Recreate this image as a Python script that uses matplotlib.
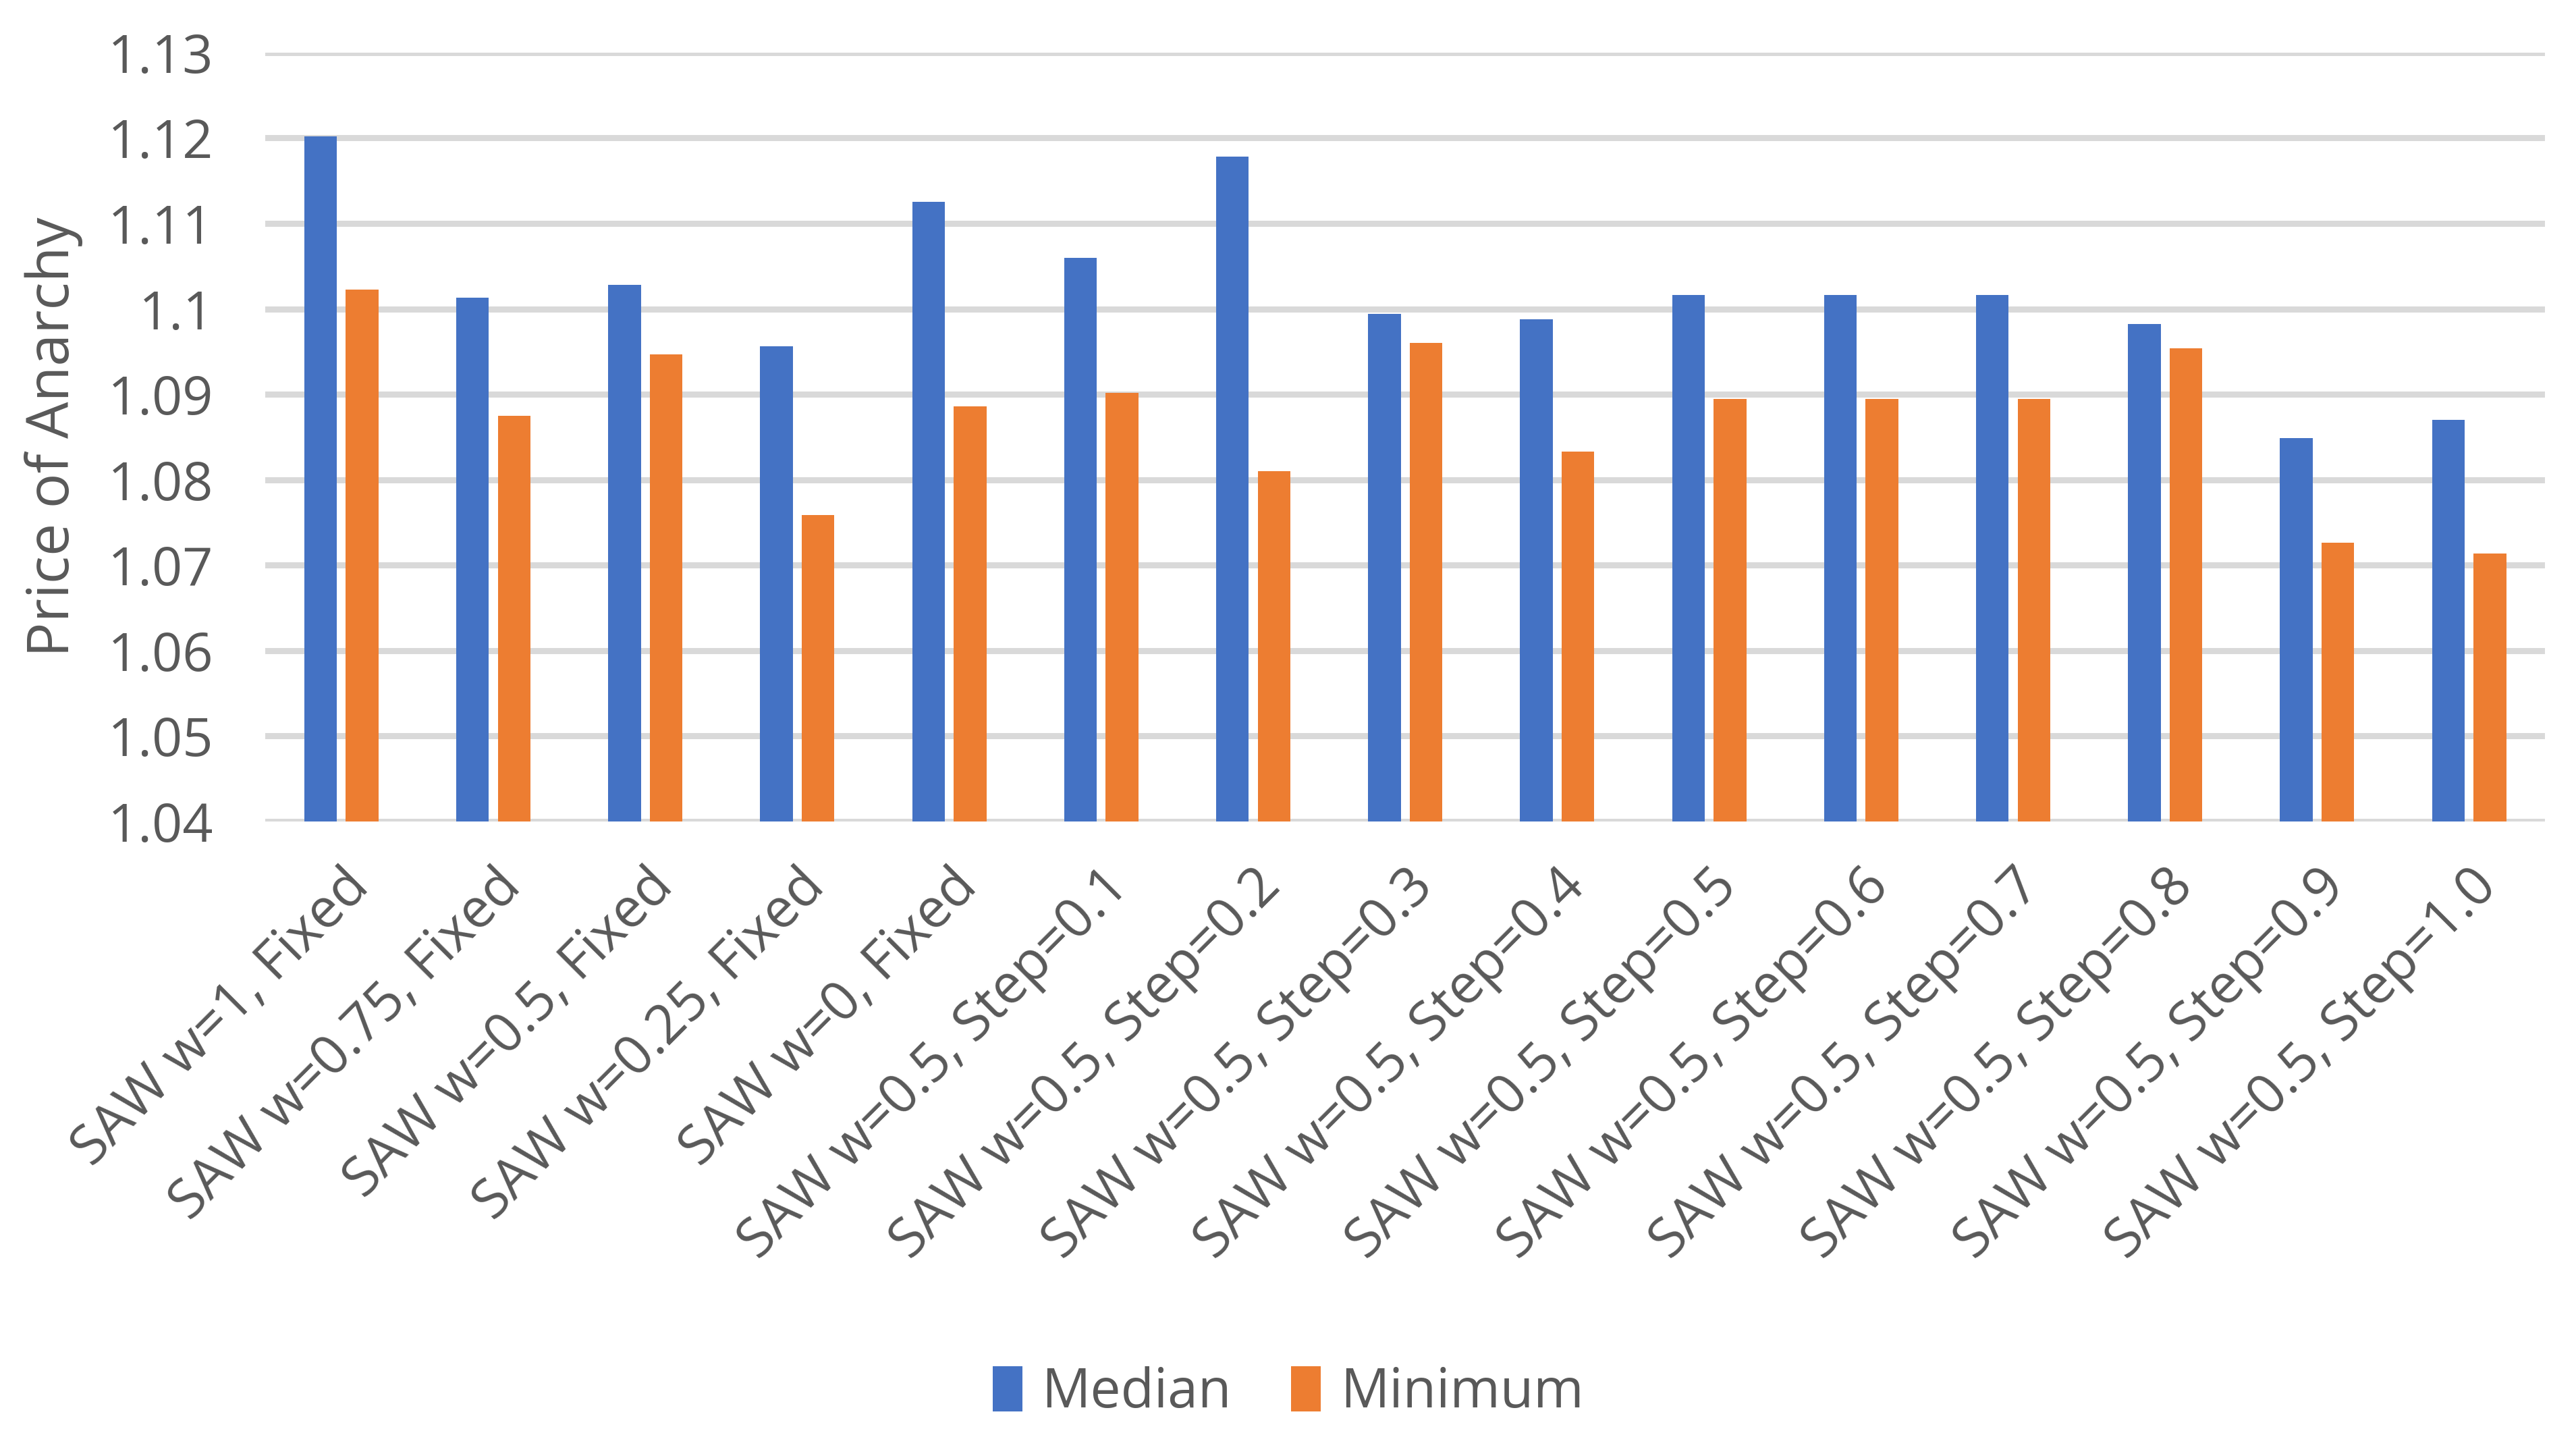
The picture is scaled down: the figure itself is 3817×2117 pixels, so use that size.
import numpy as np
import matplotlib
matplotlib.use("Agg")
import matplotlib.pyplot as plt

plt.rcParams['font.family'] = ['Open Sans', 'DejaVu Sans']

categories = ["SAW w=1, Fixed", "SAW w=0.75, Fixed", "SAW w=0.5, Fixed",
              "SAW w=0.25, Fixed", "SAW w=0, Fixed",
              "SAW w=0.5, Step=0.1", "SAW w=0.5, Step=0.2", "SAW w=0.5, Step=0.3",
              "SAW w=0.5, Step=0.4", "SAW w=0.5, Step=0.5", "SAW w=0.5, Step=0.6",
              "SAW w=0.5, Step=0.7", "SAW w=0.5, Step=0.8", "SAW w=0.5, Step=0.9",
              "SAW w=0.5, Step=1.0"]
median = [1.1202, 1.1013, 1.1028, 1.0956, 1.1125, 1.1060, 1.1178, 1.0994,
          1.0988, 1.1016, 1.1016, 1.1016, 1.0982, 1.0849, 1.0870]
minimum = [1.1023, 1.0875, 1.0947, 1.0759, 1.0886, 1.0902, 1.0810, 1.0960,
           1.0833, 1.0895, 1.0895, 1.0895, 1.0954, 1.0726, 1.0714]
yticks = [1.04, 1.05, 1.06, 1.07, 1.08, 1.09, 1.10, 1.11, 1.12, 1.13]
ytick_labels = ["1.04", "1.05", "1.06", "1.07", "1.08", "1.09", "1.1", "1.11", "1.12", "1.13"]

grey = '#595959'
fig = plt.figure(figsize=(38.17, 21.17), dpi=100)
ax = fig.add_axes([0.103, 0.4251, 0.885, 0.5381])

x = np.arange(len(categories))
w = 0.215
ax.bar(x - 0.137, median, w, color='#4472C4', label='Median', zorder=3)
ax.bar(x + 0.137, minimum, w, color='#ED7D31', label='Minimum', zorder=3)

ax.set_xlim(-0.5, len(categories) - 0.5)
ax.set_ylim(1.04, 1.13)
ax.set_yticks(yticks)
ax.set_yticklabels(ytick_labels)
ax.yaxis.grid(True, color='#D9D9D9', linewidth=6.5, zorder=0)
ax.set_axisbelow(True)
for s in ax.spines.values():
    s.set_visible(False)
ax.tick_params(axis='both', length=0, colors=grey)
ax.tick_params(axis='y', pad=55, labelsize=57)
ax.set_xticks(x)
ax.set_xticklabels(categories, rotation=45, ha='right', rotation_mode='anchor')
ax.tick_params(axis='x', pad=40, labelsize=58)
ax.set_ylabel('Price of Anarchy', fontsize=62, color=grey)
ax.yaxis.set_label_coords(-0.080, 0.5)

fig.legend(loc='center', bbox_to_anchor=(0.5, 0.025), ncol=2, frameon=False,
           fontsize=58, labelcolor=grey, handlelength=0.55, handleheight=0.9,
           columnspacing=1.1, handletextpad=0.35)

fig.savefig('out.png', dpi=100, facecolor='white')
